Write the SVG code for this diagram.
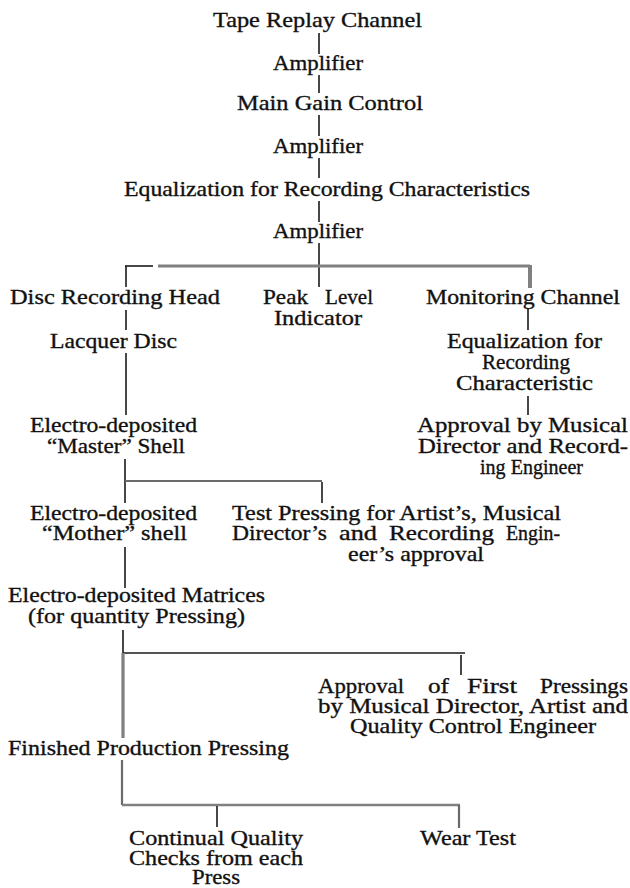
<svg xmlns="http://www.w3.org/2000/svg" width="630" height="888" viewBox="0 0 630 888">
<style>
text{font-family:"Liberation Serif","Times New Roman",serif;font-size:22px;fill:#111111;stroke:#111111;stroke-width:0.35}
.c{stroke:#1a1a1a;stroke-width:1.6;fill:none}
.g{stroke:#808080;stroke-width:3.2;fill:none}
.gt{stroke:#6a6a6a;stroke-width:2.2;fill:none}
</style>
<rect width="630" height="888" fill="#ffffff"/>
<g id="connectors">
<line class="c" x1="319" y1="33" x2="319" y2="54"/>
<line class="c" x1="319" y1="75" x2="319" y2="93"/>
<line class="c" x1="319" y1="115" x2="319" y2="136"/>
<line class="c" x1="319" y1="158" x2="319" y2="178"/>
<line class="c" x1="319" y1="201" x2="319" y2="222"/>
<line class="c" x1="319" y1="243" x2="319" y2="287"/>
<line class="c" x1="125" y1="266" x2="153" y2="266"/>
<line class="g" x1="158" y1="266" x2="530" y2="266"/>
<line class="g" x1="530" y1="265" x2="530" y2="288" style="stroke-width:4"/>
<line class="c" x1="126" y1="266" x2="126" y2="287"/>
<line class="c" x1="126" y1="310" x2="126" y2="330"/>
<line class="c" x1="126" y1="353" x2="126" y2="415"/>
<line class="c" x1="528" y1="308" x2="528" y2="330"/>
<line class="c" x1="528" y1="396" x2="528" y2="415"/>
<line class="c" x1="125" y1="459" x2="125" y2="503"/>
<line class="gt" x1="125" y1="481" x2="322" y2="481"/>
<line class="c" x1="322" y1="482" x2="322" y2="503"/>
<line class="c" x1="125" y1="547" x2="125" y2="588"/>
<line class="c" x1="123" y1="630" x2="123" y2="653"/>
<line class="c" x1="123" y1="653" x2="465" y2="653" style="stroke-width:1.3"/>
<line class="c" x1="461" y1="655" x2="461" y2="675"/>
<line class="g" x1="123" y1="653" x2="123" y2="738"/>
<line class="gt" x1="122" y1="760" x2="122" y2="805"/>
<line class="g" x1="122" y1="805" x2="460" y2="805" style="stroke-width:2.6"/>
<line class="c" x1="217" y1="806" x2="217" y2="827"/>
<line class="gt" x1="459" y1="805" x2="459" y2="828"/>
</g>
<g id="tape-replay"><text x="213" y="27" textLength="209" lengthAdjust="spacingAndGlyphs">Tape Replay Channel</text></g>
<g id="amplifier-1"><text x="273" y="70" textLength="90" lengthAdjust="spacingAndGlyphs">Amplifier</text></g>
<g id="main-gain"><text x="237" y="110" textLength="186" lengthAdjust="spacingAndGlyphs">Main Gain Control</text></g>
<g id="amplifier-2"><text x="273" y="153" textLength="90" lengthAdjust="spacingAndGlyphs">Amplifier</text></g>
<g id="equalization-1"><text x="124" y="196" textLength="406" lengthAdjust="spacingAndGlyphs">Equalization for Recording Characteristics</text></g>
<g id="amplifier-3"><text x="273" y="238" textLength="90" lengthAdjust="spacingAndGlyphs">Amplifier</text></g>
<g id="disc-head"><text x="10" y="304" textLength="210" lengthAdjust="spacingAndGlyphs">Disc Recording Head</text></g>
<g id="peak-level"><text x="263" y="304" textLength="45" lengthAdjust="spacingAndGlyphs">Peak</text><text x="325" y="304" textLength="48" lengthAdjust="spacingAndGlyphs">Level</text><text x="274" y="325" textLength="88" lengthAdjust="spacingAndGlyphs">Indicator</text></g>
<g id="monitoring"><text x="426" y="304" textLength="194" lengthAdjust="spacingAndGlyphs">Monitoring Channel</text></g>
<g id="lacquer"><text x="50" y="348" textLength="127" lengthAdjust="spacingAndGlyphs">Lacquer Disc</text></g>
<g id="equalization-2"><text x="447" y="348" textLength="155" lengthAdjust="spacingAndGlyphs">Equalization for</text><text x="482" y="369" textLength="88" lengthAdjust="spacingAndGlyphs">Recording</text><text x="456" y="390" textLength="137" lengthAdjust="spacingAndGlyphs">Characteristic</text></g>
<g id="master"><text x="30" y="432" textLength="167" lengthAdjust="spacingAndGlyphs">Electro-deposited</text><text x="47" y="453" textLength="138" lengthAdjust="spacingAndGlyphs">“Master” Shell</text></g>
<g id="approval-1"><text x="417" y="432" textLength="211" lengthAdjust="spacingAndGlyphs">Approval by Musical</text><text x="418" y="453" textLength="210" lengthAdjust="spacingAndGlyphs">Director and Record-</text><text x="480" y="474" textLength="103" lengthAdjust="spacingAndGlyphs">ing Engineer</text></g>
<g id="mother"><text x="30" y="520" textLength="167" lengthAdjust="spacingAndGlyphs">Electro-deposited</text><text x="42" y="540" textLength="145" lengthAdjust="spacingAndGlyphs">“Mother” shell</text></g>
<g id="test-pressing"><text x="232" y="520" textLength="329" lengthAdjust="spacingAndGlyphs">Test Pressing for Artist’s, Musical</text><text x="232" y="540" textLength="95" lengthAdjust="spacingAndGlyphs">Director’s</text><text x="339" y="540" textLength="38" lengthAdjust="spacingAndGlyphs">and</text><text x="389" y="540" textLength="105" lengthAdjust="spacingAndGlyphs">Recording</text><text x="506" y="540" textLength="54" lengthAdjust="spacingAndGlyphs">Engin-</text><text x="348" y="561" textLength="136" lengthAdjust="spacingAndGlyphs">eer’s approval</text></g>
<g id="matrices"><text x="8" y="602" textLength="257" lengthAdjust="spacingAndGlyphs">Electro-deposited Matrices</text><text x="28" y="623" textLength="217" lengthAdjust="spacingAndGlyphs">(for quantity Pressing)</text></g>
<g id="approval-2"><text x="318" y="693" textLength="86" lengthAdjust="spacingAndGlyphs">Approval</text><text x="428" y="693" textLength="21" lengthAdjust="spacingAndGlyphs">of</text><text x="467" y="693" textLength="50" lengthAdjust="spacingAndGlyphs">First</text><text x="540" y="693" textLength="88" lengthAdjust="spacingAndGlyphs">Pressings</text><text x="318" y="713" textLength="310" lengthAdjust="spacingAndGlyphs">by Musical Director, Artist and</text><text x="350" y="733" textLength="246" lengthAdjust="spacingAndGlyphs">Quality Control Engineer</text></g>
<g id="finished"><text x="8" y="755" textLength="281" lengthAdjust="spacingAndGlyphs">Finished Production Pressing</text></g>
<g id="continual"><text x="129" y="845" textLength="174" lengthAdjust="spacingAndGlyphs">Continual Quality</text><text x="129" y="865" textLength="174" lengthAdjust="spacingAndGlyphs">Checks from each</text><text x="192" y="884" textLength="48" lengthAdjust="spacingAndGlyphs">Press</text></g>
<g id="wear-test"><text x="420" y="845" textLength="96" lengthAdjust="spacingAndGlyphs">Wear Test</text></g>
</svg>
